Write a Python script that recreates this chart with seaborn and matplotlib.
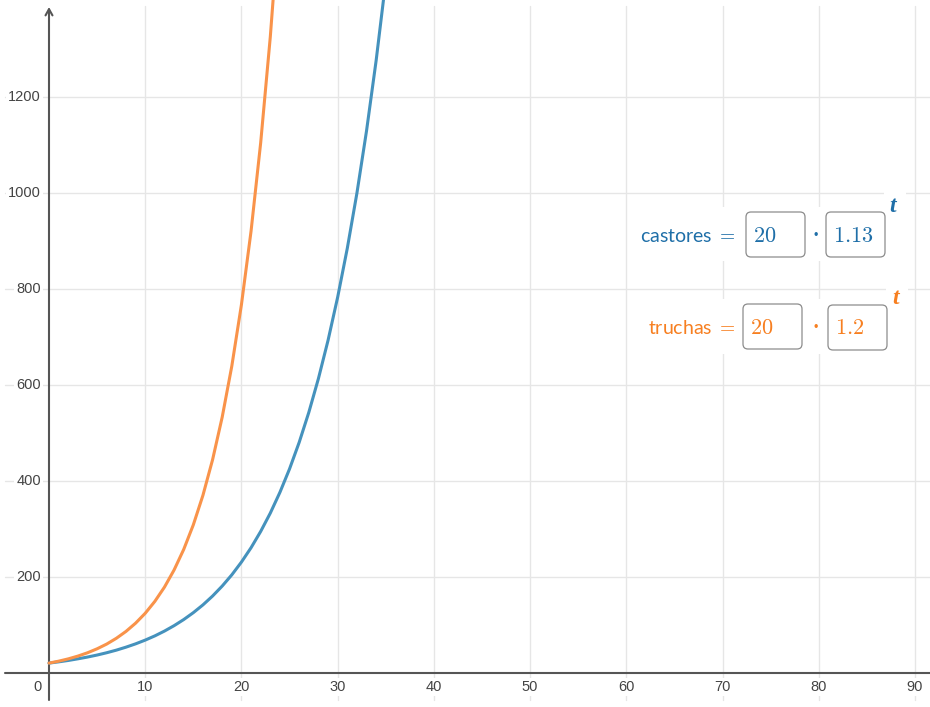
import numpy as np
import pandas as pd
import matplotlib
matplotlib.use("Agg")
import matplotlib.pyplot as plt
import seaborn as sns
from matplotlib.patches import FancyBboxPatch, Rectangle
from matplotlib.transforms import IdentityTransform

# valores (t entero)
t_castores = list(range(0, 36))
castores = [20, 22.6, 25.5, 28.9, 32.6, 36.8, 41.6, 47.0, 53.2, 60.1, 67.9, 76.7,
            86.7, 98.0, 110.7, 125.1, 141.3, 159.7, 180.5, 203.9, 230.5, 260.4,
            294.3, 332.5, 375.8, 424.6, 479.8, 542.2, 612.7, 692.3, 782.3, 884.0,
            998.9, 1128.8, 1275.5, 1441.3]
t_truchas = list(range(0, 25))
truchas = [20, 24, 28.8, 34.6, 41.5, 49.8, 59.7, 71.7, 86.0, 103.2, 123.8, 148.6,
           178.3, 214.0, 256.8, 308.1, 369.7, 443.7, 532.4, 638.9, 766.8, 920.1,
           1104.1, 1324.9, 1589.9]

x_ticks = [10, 20, 30, 40, 50, 60, 70, 80, 90]
y_ticks = [200, 400, 600, 800, 1000, 1200]

etiquetas = [("castores", "20", "1.13"), ("truchas", "20", "1.2")]

azul = "#4592bd"
naranja = "#f9934a"
azul_txt = "#1f6fa8"
naranja_txt = "#f77f20"

df = pd.concat([
    pd.DataFrame({"t": t_castores, "valor": castores, "serie": "castores"}),
    pd.DataFrame({"t": t_truchas, "valor": truchas, "serie": "truchas"}),
])

sns.set_style("white")
plt.rcParams["font.family"] = ["Liberation Sans", "DejaVu Sans"]
plt.rcParams["mathtext.fontset"] = "cm"

W, H = 930, 707
fig = plt.figure(figsize=(W / 100, H / 100), dpi=100)
ax = fig.add_axes([0, 0, 1, 1])

# escala: x=0 en px 49, 9.622 px/unidad ; y=0 en px 672.7, 0.48 px/unidad
x0, sx = 49, 9.622
y0, sy = 672.7, 0.48
ax.set_xlim(-x0 / sx, (W - x0) / sx)
ax.set_ylim(-(H - y0) / sy, y0 / sy)
ax.axis("off")

for xv in x_ticks:
    ax.axvline(xv, ymin=7 / H, ymax=1 - 6 / H, color="#e6e6e6", lw=1.0, zorder=0.5)
for yv in y_ticks:
    ax.axhline(yv, xmin=5 / W, xmax=1, color="#e6e6e6", lw=1.0, zorder=0.5)

# ejes
ax.plot([(5 - x0) / sx, (W - x0) / sx], [0, 0], color="#555555", lw=1.5, zorder=1.5)
ax.annotate("", xy=(0, (y0 - 7) / sy), xytext=(0, -(700 - y0) / sy),
            arrowprops=dict(arrowstyle="->,head_length=0.45,head_width=0.25",
                            color="#555555", lw=1.5, shrinkA=0, shrinkB=0), zorder=1.5)

sns.lineplot(data=df, x="t", y="valor", hue="serie", hue_order=["castores", "truchas"],
             palette={"castores": azul, "truchas": naranja}, legend=False,
             lw=2.2, ax=ax, zorder=2, estimator=None)

caja = dict(fc="white", ec="none", pad=1.5)
for yv in y_ticks:
    ax.text((41 - x0) / sx, yv, str(yv), ha="right", va="center", fontsize=10.5,
            color="#444444", bbox=caja, zorder=3)
for xv in x_ticks:
    ax.text(xv, (y0 - 687) / sy, str(xv), ha="center", va="center", fontsize=10.5,
            color="#444444", bbox=caja, zorder=3)
ax.text((37 - x0) / sx, (y0 - 687) / sy, "0", ha="center", va="center", fontsize=10.5,
        color="#444444", bbox=caja, zorder=3)

# etiquetas de las funciones (coordenadas en pixeles)
idt = IdentityTransform()


def py(y):
    return H - y


filas = [
    dict(yc=236, box1=(746, 212), box2=(826, 212), dot=816, tpos=(893, 207),
         col=azul_txt, fondo=(638, 207, 252, 54), tfondo=(884, 192, 22, 28)),
    dict(yc=328, box1=(743, 304), box2=(828, 305), dot=816, tpos=(896, 299),
         col=naranja_txt, fondo=(636, 299, 256, 55), tfondo=(886, 284, 22, 28)),
]

for (nombre, a, b), f in zip(etiquetas, filas):
    fx, fy, fw, fh = f["fondo"]
    fig.add_artist(Rectangle((fx, py(fy + fh)), fw, fh, transform=idt, fc="white",
                             ec="none", zorder=2.5))
    tx, ty, tw, th = f["tfondo"]
    fig.add_artist(Rectangle((tx, py(ty + th)), tw, th, transform=idt, fc="white",
                             ec="none", zorder=2.5))
    fig.text(736, py(f["yc"]), nombre + r" $=$", transform=idt, ha="right", va="center",
             fontsize=14, color=f["col"], family=["Lato", "DejaVu Sans"], zorder=4)
    for (bx, by), val in [(f["box1"], a), (f["box2"], b)]:
        fig.add_artist(FancyBboxPatch((bx, py(by + 45)), 59, 45, transform=idt,
                                      boxstyle="round,pad=0,rounding_size=5",
                                      fc="white", ec="#8c8c8c", lw=0.9, zorder=3))
        fig.text(bx + 7, py(by + 24), "$" + val + "$", transform=idt, ha="left",
                 va="center", fontsize=16, color=f["col"], zorder=4)
    fig.text(f["dot"], py(f["yc"]), "•", transform=idt, ha="center", va="center",
             fontsize=9, color=f["col"], zorder=4)
    fig.text(f["tpos"][0], py(f["tpos"][1]), "t", transform=idt, ha="center", va="center",
             fontsize=17, color=f["col"], family="Liberation Serif", style="italic",
             weight="bold", zorder=4)

fig.savefig("out.png", dpi=100)
